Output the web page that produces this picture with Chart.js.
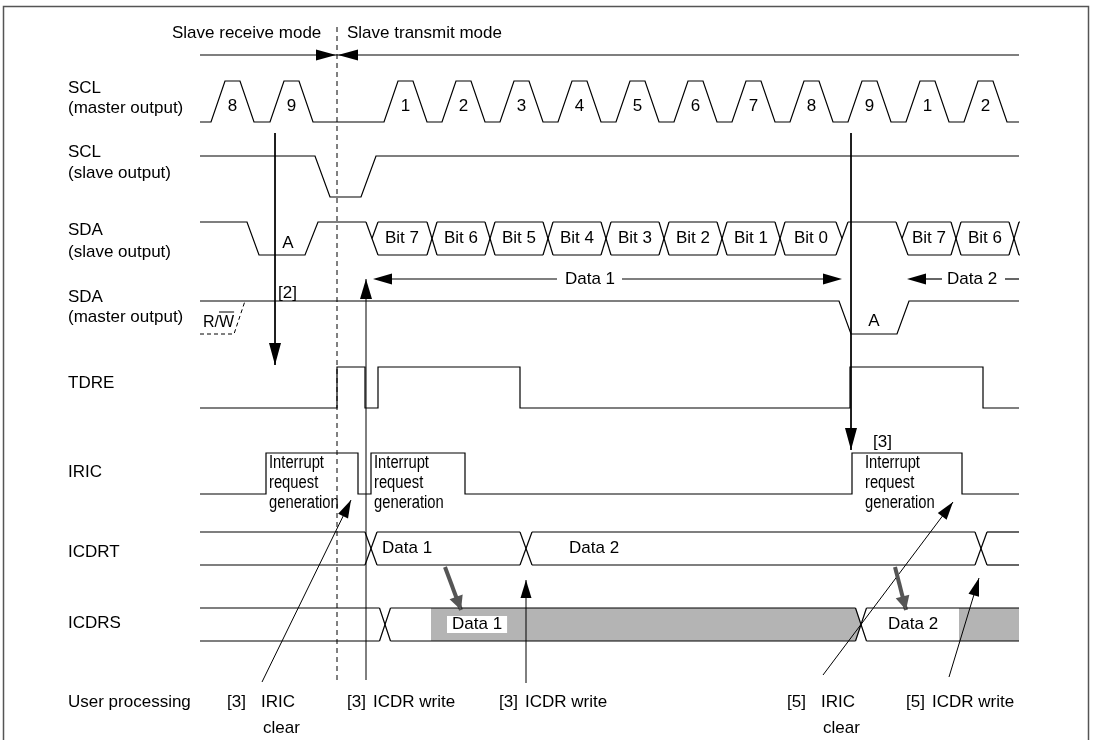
<!DOCTYPE html>
<html><head><meta charset="utf-8">
<script src="https://cdn.jsdelivr.net/npm/chart.js@4/dist/chart.umd.min.js"></script>
<style>html,body{margin:0;padding:0;background:#fff}#wrap{width:1099px;height:740px;position:relative}</style>
</head><body><div id="wrap"><canvas id="c"></canvas></div>
<script>
// ================= DATA (time positions / logic levels) =================
const signalLabels = [['SCL','(master output)'],['SCL','(slave output)'],['SDA','(slave output)'],['SDA','(master output)'],['TDRE'],['IRIC'],['ICDRT'],['ICDRS'],['User processing']];
const modeLabels = ['Slave receive mode','Slave transmit mode'];
const modeBoundary = 337;
const sclMasterRise = [211,270,384,442,500,558,616,674,732,790,848,906,964];
const sclMasterBits = ['8','9','1','2','3','4','5','6','7','8','9','1','2'];
const sclSlave = [[200,1],[315,1],[330,0],[361,0],[376,1],[1019,1]];
const sdaSlaveLead = [[200,1],[247,1],[259,0],[305,0],[318,1],[366,1]];
const sdaByte1Span = [366,842];
const sdaByte1Cross = [432,490,548,606,664,722,780];
const sdaByte1Bits = ['Bit 7','Bit 6','Bit 5','Bit 4','Bit 3','Bit 2','Bit 1','Bit 0'];
const sdaAckHigh = [[848,1],[896,1]];
const sdaByte2Span = [896,1020];
const sdaByte2Cross = [956,1014];
const sdaByte2Bits = ['Bit 7','Bit 6'];
const sdaMaster = [[200,1],[839,1],[851,0],[897,0],[909,1],[1019,1]];
const sdaMasterRW = [[200,0],[234,0],[245,1]];
const tdre = [[200,0],[337,0],[337,1],[365,1],[365,0],[378,0],[378,1],[520,1],[520,0],[850,0],[850,1],[983,1],[983,0],[1019,0]];
const iric = [[200,0],[266,0],[266,1],[358,1],[358,0],[371,0],[371,1],[465,1],[465,0],[852,0],[852,1],[962,1],[962,0],[1019,0]];
const icdrtSpan = [200,1019];
const icdrtCross = [371,526,981];
const icdrtData = [['Data 1',382],['Data 2',569]];
const icdrsSpan = [200,1019];
const icdrsCross = [385,861];
const icdrsShaded = [[431,861],[959,1019]];
const icdrsData = [['Data 1',452],['Data 2',888]];
const iricEvents = [[266,'Interrupt request generation'],[371,'Interrupt request generation'],[852,'Interrupt request generation']];
const userSteps = [['[3]','IRIC','clear'],['[3]','ICDR write'],['[3]','ICDR write'],['[5]','IRIC','clear'],['[5]','ICDR write']];

// ================= LAYOUT / STYLE =================
const FONT = '"Liberation Sans", Arial, Helvetica, sans-serif';
const rows = {
  sclM:{hi:81,lo:122}, sclS:{hi:156,lo:197}, sdaS:{hi:222,lo:255}, sdaM:{hi:301,lo:334},
  tdre:{hi:367,lo:408}, iric:{hi:453,lo:494}, icdrt:{hi:532,lo:565}, icdrs:{hi:608,lo:641}
};
const labelY = [[88,108],[152,173],[230,252],[297,317],[383],[472],[552],[623],[702]];
const userX = [[227,261],[347,373],[499,525],[787,821],[906,932]];
const EDGE = 14, TOP = 15, LEAD = 12;
const LW = 1.2;

const datasets = [];
const heads = [];
const fills = [];
const texts = [];
function addLine(pts, opt){
  datasets.push(Object.assign({data: pts.map(p=>({x:p[0],y:p[1]})), borderColor:'#000', borderWidth:LW,
    pointRadius:0, pointHoverRadius:0, tension:0, fill:false}, opt||{}));
}
function lvl(r,v){ return v ? r.hi : r.lo; }
function mid(r){ return (r.hi+r.lo)/2; }
function addWave(r, pairs, opt){ addLine(pairs.map(p=>[p[0], lvl(r,p[1])]), opt); }
function addBus(r, span, cross, hw, lead, trail){
  const hi=r.hi, lo=r.lo, m=mid(r);
  let cur = span[0];
  if (lead==='high'){ addLine([[span[0],hi],[span[0]+LEAD,lo]]); addLine([[span[0]+LEAD/2,m],[span[0]+LEAD,hi]]); cur = span[0]+LEAD; }
  cross.forEach(c=>{
    addLine([[cur,hi],[c-hw,hi]]); addLine([[cur,lo],[c-hw,lo]]);
    addLine([[c-hw,hi],[c+hw,lo]]); addLine([[c-hw,lo],[c+hw,hi]]);
    cur = c+hw;
  });
  const end = trail==='high' ? span[1]-LEAD/2 : span[1];
  if (end>cur){ addLine([[cur,hi],[end,hi]]); addLine([[cur,lo],[end,lo]]); }
  if (trail==='high'){ addLine([[end,hi],[span[1],m]]); addLine([[end,lo],[end+LEAD,hi]]); }
}
function arrow(x1,y1,x2,y2,opt){
  opt = opt||{};
  addLine([[x1,y1],[x2,y2]], {borderColor:opt.color||'#000', borderWidth:opt.width||1});
  heads.push({from:[x1,y1], tip:[x2,y2], L:opt.L||18, W:opt.W||5.5, color:opt.color||'#000'});
}
function head(fromX,fromY,tipX,tipY,L,W){ heads.push({from:[fromX,fromY], tip:[tipX,tipY], L:L||19, W:W||5.5, color:'#000'}); }
function text(s,x,y,opt){ texts.push(Object.assign({s,x,y,align:'left',size:17},opt||{})); }

// ---- signal labels ----
signalLabels.forEach((lab,i)=>lab.forEach((s,j)=>text(s,68,labelY[i][j])));
// ---- mode header ----
text(modeLabels[0],172,33); text(modeLabels[1],347,33);
addLine([[200,55],[1019,55]]);
head(modeBoundary-20,55,modeBoundary-1,55,20,5.5);
head(modeBoundary+21,55,modeBoundary+1,55,20,5.5);
addLine([[modeBoundary,27],[modeBoundary,680]], {borderDash:[5,4], borderWidth:1});

// ---- SCL master ----
(function(){
  const pts=[[200,0]];
  sclMasterRise.forEach(r=>pts.push([r,0],[r+EDGE,1],[r+EDGE+TOP,1],[r+2*EDGE+TOP,0]));
  pts.push([1019,0]);
  addWave(rows.sclM, pts);
  sclMasterRise.forEach((r,i)=>text(sclMasterBits[i], r+EDGE+TOP/2, 106, {align:'center'}));
})();
// ---- SCL slave ----
addWave(rows.sclS, sclSlave);
// ---- SDA slave ----
addWave(rows.sdaS, sdaSlaveLead);
text('A',288,243,{align:'center'});
addBus(rows.sdaS, sdaByte1Span, sdaByte1Cross, 5, 'high', 'high');
(function(){
  const b=[sdaByte1Span[0]+LEAD/2].concat(sdaByte1Cross).concat([sdaByte1Span[1]]);
  sdaByte1Bits.forEach((s,i)=>text(s,(b[i]+b[i+1])/2, mid(rows.sdaS), {align:'center'}));
})();
addWave(rows.sdaS, sdaAckHigh);
addBus(rows.sdaS, sdaByte2Span, sdaByte2Cross, 5, 'high', 'open');
(function(){
  const b=[sdaByte2Span[0]+LEAD/2].concat(sdaByte2Cross);
  sdaByte2Bits.forEach((s,i)=>text(s,(b[i]+b[i+1])/2, mid(rows.sdaS), {align:'center'}));
})();
// Data 1 / Data 2 spans
addLine([[380,279],[557,279]]); head(392,279,373,279,19,5.5);
text('Data 1',590,279,{align:'center'});
addLine([[622,279],[832,279]]); head(823,279,842,279,19,5.5);
addLine([[915,279],[942,279]]); head(926,279,907,279,19,5.5);
text('Data 2',947,279);
addLine([[1005,279],[1019,279]]);
// ---- SDA master ----
addWave(rows.sdaM, sdaMaster);
addWave(rows.sdaM, sdaMasterRW, {borderDash:[4,3], borderWidth:1});
text('A',874,321,{align:'center'});
text('[2]',278,293);
// ---- TDRE / IRIC ----
addWave(rows.tdre, tdre);
addWave(rows.iric, iric);
iricEvents.forEach(e=>{
  const w=e[1].split(' ');
  w.forEach((s,i)=>text(s, e[0]+(e[0]>800?13:3), 463+i*20, {narrow:true, size:18}));
});
text('[3]',873,442);
// ---- ICDRT / ICDRS ----
addBus(rows.icdrt, icdrtSpan, icdrtCross, 6, 'bus', 'open');
icdrtData.forEach(d=>text(d[0], d[1], mid(rows.icdrt)));
icdrsShaded.forEach(s=>fills.push({row:rows.icdrs, from:s[0], to:s[1], cross: icdrsCross.indexOf(s[1])>=0 ? 5.5 : 0}));
addBus(rows.icdrs, icdrsSpan, icdrsCross, 5.5, 'bus', 'open');
text(icdrsData[0][0], icdrsData[0][1], mid(rows.icdrs), {box:true});
text(icdrsData[1][0], icdrsData[1][1], mid(rows.icdrs));
arrow(445,567,461,610,{color:'#555', width:4, L:14, W:7});
arrow(895,567,906,610,{color:'#555', width:4, L:14, W:7});
// ---- event arrows ----
arrow(275,133,275,365,{L:22,W:6});
arrow(851,133,851,450,{L:22,W:6});
arrow(366,680,366,279,{L:20,W:6});
arrow(262,682,351,500,{L:18,W:5.5});
arrow(526,683,526,580,{L:18,W:5.5});
arrow(823,675,953,502,{L:18,W:5.5});
arrow(949,677,979,578,{L:18,W:5.5});
// ---- user processing ----
userSteps.forEach((u,i)=>{ text(u[0],userX[i][0],702); text(u[1],userX[i][1],702); if(u[2]) text(u[2],userX[i][1]+2,728); });

// ================= PLUGIN =================
const deco = {
  id:'deco',
  beforeDatasetsDraw(chart){
    const ctx=chart.ctx, X=v=>chart.scales.x.getPixelForValue(v), Y=v=>chart.scales.y.getPixelForValue(v);
    ctx.save();
    ctx.fillStyle='#b4b4b4';
    fills.forEach(f=>{
      const hi=f.row.hi, lo=f.row.lo, m=(hi+lo)/2;
      ctx.beginPath();
      ctx.moveTo(X(f.from),Y(hi));
      if (f.cross){ ctx.lineTo(X(f.to-f.cross),Y(hi)); ctx.lineTo(X(f.to),Y(m)); ctx.lineTo(X(f.to-f.cross),Y(lo)); }
      else { ctx.lineTo(X(f.to),Y(hi)); ctx.lineTo(X(f.to),Y(lo)); }
      ctx.lineTo(X(f.from),Y(lo)); ctx.closePath(); ctx.fill();
    });
    // frame
    ctx.strokeStyle='#555'; ctx.lineWidth=1.5;
    ctx.strokeRect(X(3.5),Y(6.5),X(1088.5)-X(3.5),Y(745)-Y(6.5));
    ctx.restore();
  },
  afterDatasetsDraw(chart){
    const ctx=chart.ctx, X=v=>chart.scales.x.getPixelForValue(v), Y=v=>chart.scales.y.getPixelForValue(v);
    ctx.save();
    heads.forEach(h=>{
      const tx=X(h.tip[0]), ty=Y(h.tip[1]), fx=X(h.from[0]), fy=Y(h.from[1]);
      const dx=tx-fx, dy=ty-fy, len=Math.hypot(dx,dy), ux=dx/len, uy=dy/len;
      const bx=tx-ux*h.L, by=ty-uy*h.L;
      ctx.fillStyle=h.color; ctx.beginPath();
      ctx.moveTo(tx,ty); ctx.lineTo(bx-uy*h.W, by+ux*h.W); ctx.lineTo(bx+uy*h.W, by-ux*h.W); ctx.closePath(); ctx.fill();
    });
    ctx.textBaseline='middle'; ctx.fillStyle='#000';
    texts.forEach(t=>{
      ctx.font = t.size+'px '+FONT;
      const x=X(t.x), y=Y(t.y);
      if (t.box){
        const w=ctx.measureText(t.s).width;
        ctx.fillStyle='#fff'; ctx.fillRect(x-5, y-8.5, w+10, 17); ctx.fillStyle='#000';
      }
      if (t.narrow){
        ctx.save(); ctx.translate(x,y); ctx.scale(0.82,1); ctx.textAlign='left'; ctx.fillText(t.s,0,0); ctx.restore();
      } else {
        ctx.textAlign=t.align; ctx.fillText(t.s,x,y);
      }
    });
    // R/W with overline on W
    ctx.font='16px '+FONT; ctx.textAlign='left';
    const rx=X(203), ry=Y(323);
    ctx.fillText('R/W',rx,ry);
    const w1=ctx.measureText('R/').width, w2=ctx.measureText('W').width;
    ctx.strokeStyle='#000'; ctx.lineWidth=1;
    ctx.beginPath(); ctx.moveTo(rx+w1, Y(312)); ctx.lineTo(rx+w1+w2, Y(312)); ctx.stroke();
    ctx.restore();
  }
};

new Chart(document.getElementById('c'), {
  type:'line',
  data:{datasets},
  options:{
    responsive:true, maintainAspectRatio:false, animation:false, events:[],
    layout:{padding:0},
    plugins:{legend:{display:false}, tooltip:{enabled:false}},
    scales:{
      x:{type:'linear', min:0, max:1099, display:false},
      y:{type:'linear', min:0, max:740, reverse:true, display:false}
    }
  },
  plugins:[deco]
});
</script></body></html>
